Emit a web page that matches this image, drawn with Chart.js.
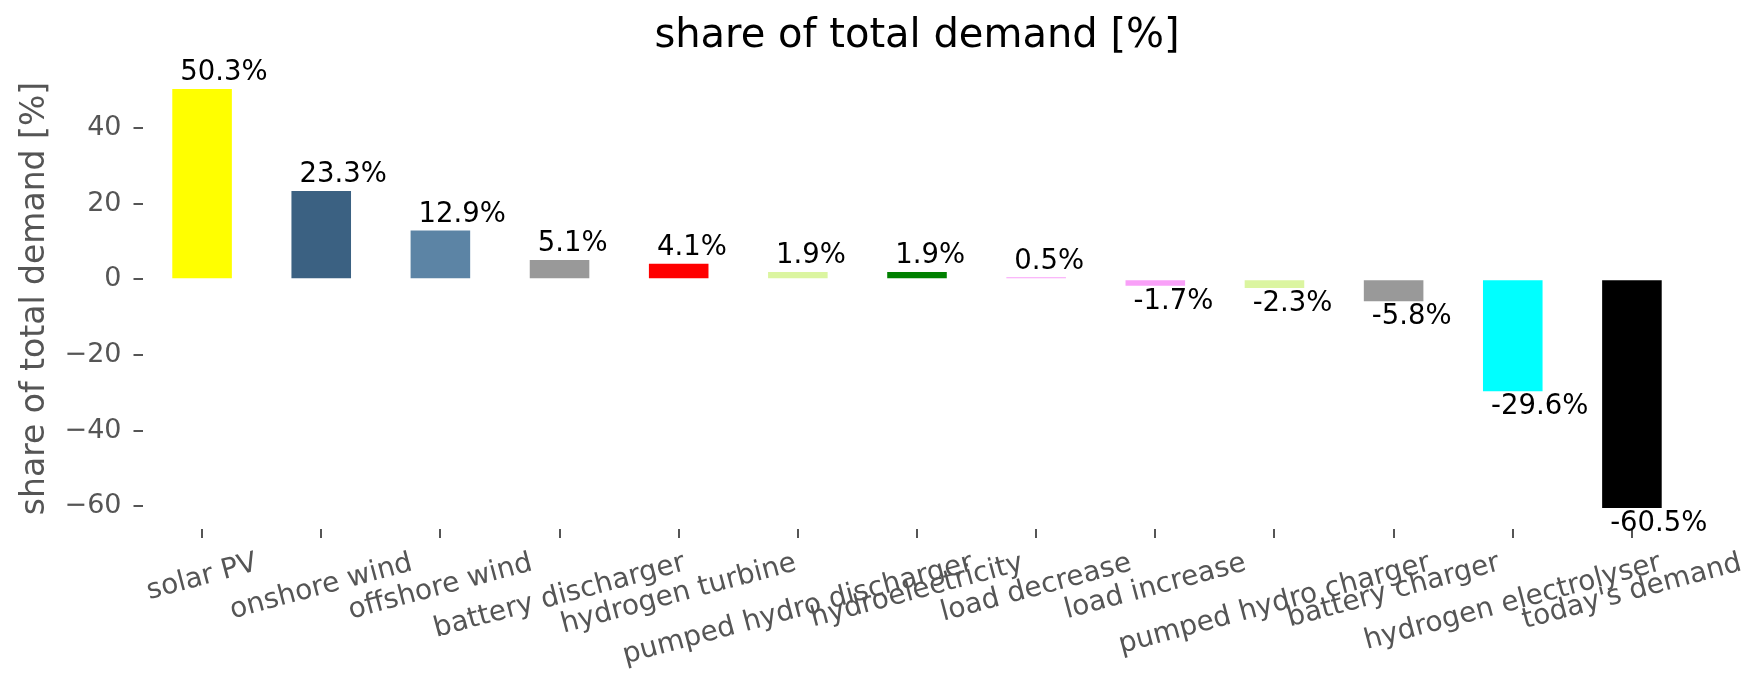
<!DOCTYPE html>
<html lang="en">
<head>
    <meta charset="UTF-8">
    <title>share of total demand [%]</title>
    <script src="https://cdn.jsdelivr.net/npm/chart.js"></script>
    <style>
        html, body { margin: 0; padding: 0; background: #ffffff; }
        #wrap { width: 1764px; height: 689px; position: relative; }
    </style>
</head>
<body>
    <div id="wrap"><canvas id="shareChart"></canvas></div>

    <script>
        // values
        const categories = [
            'solar PV', 'onshore wind', 'offshore wind', 'battery discharger',
            'hydrogen turbine', 'pumped hydro discharger', 'hydroelectricity',
            'load decrease', 'load increase', 'pumped hydro charger',
            'battery charger', 'hydrogen electrolyser', "today's demand"
        ];
        const shares = [50.3, 23.3, 12.9, 5.1, 4.1, 1.9, 1.9, 0.5, -1.7, -2.3, -5.8, -29.6, -60.5];
        const yTicks = [-60, -40, -20, 0, 20, 40];

        // bar colours, one per category
        const barColors = [
            '#ffff00', '#3b6182', '#5c84a5', '#999999', '#ff0000', '#dbf5a0', '#008000',
            '#f9a0f8', '#f9a0f8', '#dbf5a0', '#999999', '#00ffff', '#000000'
        ];

        Chart.defaults.font.family = '"DejaVu Sans", sans-serif';
        const tickGrey = '#555555';
        const valueSize = 27.5;
        const xLabelSize = 28;

        // value labels on the bars and 15 degree rotated, centred x labels
        const labelPlugin = {
            id: 'barLabels',
            afterDatasetsDraw(chart) {
                const ctx = chart.ctx;
                const meta = chart.getDatasetMeta(0);
                ctx.save();
                ctx.font = valueSize + 'px "DejaVu Sans"';
                ctx.fillStyle = '#000000';
                ctx.textAlign = 'left';
                meta.data.forEach((bar, i) => {
                    const v = shares[i];
                    const x = bar.x - bar.width / 2 + 8;
                    if (v >= 0) {
                        ctx.textBaseline = 'bottom';
                        ctx.fillText(v.toFixed(1) + '%', x, bar.y - 2);
                    } else {
                        ctx.textBaseline = 'top';
                        ctx.fillText(v.toFixed(1) + '%', x, bar.y + 2);
                    }
                });

                const xs = chart.scales.x;
                const top = chart.chartArea.bottom + 18;
                const ang = 15 * Math.PI / 180;
                ctx.font = xLabelSize + 'px "DejaVu Sans"';
                ctx.fillStyle = tickGrey;
                ctx.textAlign = 'center';
                ctx.textBaseline = 'middle';
                categories.forEach((c, i) => {
                    const w = ctx.measureText(c).width;
                    const h = xLabelSize * 1.17;
                    const boxH = w * Math.sin(ang) + h * Math.cos(ang);
                    ctx.save();
                    ctx.translate(xs.getPixelForTick(i), top + boxH / 2);
                    ctx.rotate(-ang);
                    ctx.fillText(c, 0, 0);
                    ctx.restore();
                });
                ctx.restore();
            }
        };

        const ctx = document.getElementById('shareChart').getContext('2d');
        new Chart(ctx, {
            type: 'bar',
            data: {
                labels: categories,
                datasets: [{
                    data: shares,
                    backgroundColor: barColors,
                    borderWidth: 0,
                    categoryPercentage: 1.0,
                    barPercentage: 0.5
                }]
            },
            plugins: [labelPlugin],
            options: {
                responsive: true,
                maintainAspectRatio: false,
                animation: false,
                layout: { padding: { left: 0, right: 72.5, top: 0, bottom: 0 } },
                plugins: {
                    legend: { display: false },
                    tooltip: { enabled: false },
                    title: {
                        display: true,
                        text: 'share of total demand [%]',
                        fullSize: false,
                        color: '#000000',
                        font: { size: 40, weight: 'normal' },
                        padding: { top: 13, bottom: 7 }
                    }
                },
                scales: {
                    x: {
                        offset: true,
                        border: { display: false },
                        grid: {
                            offset: false,
                            drawOnChartArea: false,
                            drawTicks: true,
                            tickLength: 9,
                            color: tickGrey,
                            lineWidth: 2
                        },
                        ticks: { display: false },
                        afterFit(scale) { scale.height = 160; }
                    },
                    y: {
                        min: -66.04,
                        max: 55.84,
                        border: { display: false },
                        grid: {
                            drawOnChartArea: false,
                            drawTicks: true,
                            tickLength: 9,
                            color: tickGrey,
                            lineWidth: 2
                        },
                        afterBuildTicks(scale) {
                            scale.ticks = yTicks.map(v => ({ value: v }));
                        },
                        ticks: {
                            color: tickGrey,
                            padding: 12,
                            font: { size: 27 },
                            callback: v => (v < 0 ? '\u2212' + Math.abs(v) : String(v))
                        },
                        title: {
                            display: true,
                            text: 'share of total demand [%]',
                            color: tickGrey,
                            font: { size: 33 },
                            padding: { top: 16 }
                        },
                        afterFit(scale) { scale.width = 142.5; }
                    }
                }
            }
        });
    </script>
</body>
</html>
